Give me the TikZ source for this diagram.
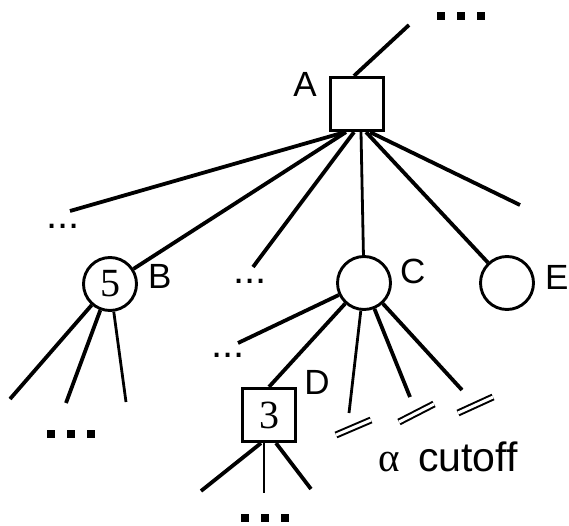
\documentclass[tikz,border=0pt]{standalone}
\usepackage{fontspec}
\setmainfont{Liberation Sans}
\newfontfamily\timesfont{Liberation Serif}
\usetikzlibrary{positioning,calc}
\newcommand{\sqdots}{\rule{8pt}{8pt}\hspace{12pt}\rule{8pt}{8pt}\hspace{12pt}\rule{8pt}{8pt}}

\begin{document}
\begin{tikzpicture}[x=1pt,y=-1pt,branch/.style={line width=3.8pt},thinbranch/.style={line width=2.8pt},
maxnode/.style={rectangle,draw,line width=3.2pt,minimum size=53pt,inner sep=0pt,font=\timesfont\fontsize{40}{44}\selectfont},
minnode/.style={circle,draw,line width=2.9pt,minimum size=53pt,inner sep=0pt,font=\timesfont\fontsize{40}{44}\selectfont},
lbl/.style={inner sep=0pt,font=\fontsize{35}{40}\selectfont},
more/.style={inner sep=0pt,font=\fontsize{40}{44}\selectfont},
cutmark/.style={double,line width=2pt,double distance=3pt}]
\useasboundingbox (0,0) rectangle (569,526);

% nodes
\node[maxnode](A) at (357,104){};
\node[minnode](B) at (110,284){5};
\node[minnode](C) at (364,283){};
\node[minnode](E) at (507,283){};
\node[maxnode](D) at (269,415){3};

% node labels
\node[lbl,left=12pt of A,yshift=20pt](lA){A};
\node[lbl,right=10pt of B,yshift=8pt](lB){B};
\node[lbl,right=8pt of C,yshift=12pt](lC){C};
\node[lbl,right=10pt of E,yshift=6pt](lE){E};
\node[lbl,right=7pt of D,yshift=33pt](lD){D};

% loose ends
\coordinate (top) at (409,25);
\coordinate (a1) at (70,211);
\coordinate (a3) at (253,267);
\coordinate (a6) at (520,205);
\coordinate (b1) at (10,399);
\coordinate (b2) at (66,403);
\coordinate (b3) at (126,402);
\coordinate (c1) at (238,343);
\coordinate (c3) at (349,413);
\coordinate (c4) at (410,397);
\coordinate (c5) at (462,390);
\coordinate (d1) at (201,491);
\coordinate (d2) at (264,493);
\coordinate (d3) at (311,489);

% dots
\node[more](m1) at (63,226){...};
\node[more](m2) at (250,281){...};
\node[more](m3) at (228,355){...};
\node[inner sep=0pt](dtop) at (461,16){\sqdots};
\node[inner sep=0pt](dB) at (71,434){\sqdots};
\node[inner sep=0pt](dD) at (265,518){\sqdots};

% branches
\draw[branch] ([xshift=-3pt]A.north) -- (top);
\draw[branch] ([xshift=-12pt]A.south) -- (a1);
\draw[branch] ([xshift=-11pt]A.south) -- (B);
\draw[branch] ([xshift=-3pt]A.south) -- (a3);
\draw[thinbranch] ([xshift=4pt]A.south) -- (C);
\draw[branch] ([xshift=9pt]A.south) -- (E);
\draw[branch] ([xshift=13pt]A.south) -- (a6);

\draw[branch] (B) -- (b1);
\draw[branch] (B) -- (b2);
\draw[thinbranch] (B) -- (b3);

\draw[branch] (C) -- (c1);
\draw[branch] (C) -- (D.north);
\draw[thinbranch] (C) -- (c3);
\draw[branch] (C) -- (c4);
\draw[branch] (C) -- (c5);

\draw[branch] ([xshift=-8pt]D.south) -- (d1);
\draw[thinbranch] ([xshift=-5pt]D.south) -- (d2);
\draw[branch] ([xshift=7pt]D.south) -- (d3);

% cutoff
\draw[cutmark] (336,435) -- (371,420);
\draw[cutmark] (399,422) -- (434,404);
\draw[cutmark] (458,413) -- (493,397);
\node[anchor=base west,inner sep=0pt,font=\fontsize{41}{46}\selectfont](cut) at (378,471){{\timesfont α}\hspace{0.45em}cutoff};
\end{tikzpicture}
\end{document}
